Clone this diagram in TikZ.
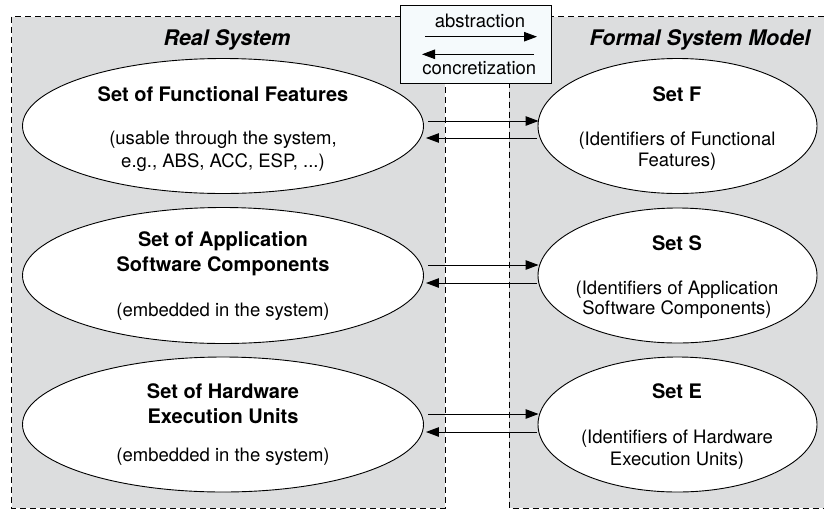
\documentclass[tikz,border=0pt]{standalone}
\usepackage{fontspec}
\setmainfont{TeX Gyre Heros}
\usetikzlibrary{shapes.geometric,arrows.meta,calc}
\definecolor{panelgray}{RGB}{220,221,222}
\definecolor{boxfill}{RGB}{245,250,252}
\begin{document}
\begin{tikzpicture}[x=1pt,y=-1pt,
  dline/.style={line width=0.9pt, dash pattern=on 6pt off 4pt},
  ellbox/.style={ellipse, draw, fill=white, line width=0.9pt, inner sep=0pt},
  boldtxt/.style={font=\fontsize{20}{24}\selectfont\bfseries, anchor=base, inner sep=0pt},
  regtxt/.style={font=\fontsize{18.5}{22}\selectfont, anchor=base, inner sep=0pt},
  headtxt/.style={font=\fontsize{21.5}{26}\selectfont\bfseries\itshape, anchor=base, inner sep=0pt},
  arr/.style={-{Triangle[length=13pt,width=9.5pt]}, line width=1pt}]
\useasboundingbox (0,0) rectangle (824,512);
% panels
\fill[panelgray] (11.7,16.7) rectangle (445,508);
\draw[dline] (11.7,16.7) rectangle (445,508);
\fill[panelgray] (509,16.7) rectangle (824,508);
\draw[dline] (824,16.7) -- (509,16.7) -- (509,508) -- (824,508);
% headings
\node[headtxt] (hreal) at (227,45) {Real System};
\node[headtxt] (hformal) at (700,45) {Formal System Model};
% left ellipses
\node[ellbox, minimum width=401pt, minimum height=135pt] (L1) at (223,126) {};
\node[ellbox, minimum width=401pt, minimum height=136pt] (L2) at (223,275.5) {};
\node[ellbox, minimum width=401pt, minimum height=135pt] (L3) at (223,424.5) {};
% right ellipses
\node[ellbox, minimum width=279pt, minimum height=135pt] (R1) at (677.5,126) {};
\node[ellbox, minimum width=279pt, minimum height=135pt] (R2) at (677.5,275.5) {};
\node[ellbox, minimum width=279pt, minimum height=135pt] (R3) at (677.5,424.5) {};
% left texts
\node[boldtxt] (l1a) at (223,101) {Set of Functional Features};
\node[regtxt] (l1b) at (223,144) {(usable through the system,};
\node[regtxt] (l1c) at (223,167) {e.g., ABS, ACC, ESP, ...)};
\node[boldtxt] (l2a) at (223,246.7) {Set of Application};
\node[boldtxt] (l2b) at (223,271.7) {Software Components};
\node[regtxt] (l2c) at (223,316.7) {(embedded in the system)};
\node[boldtxt] (l3a) at (223,398) {Set of Hardware};
\node[boldtxt] (l3b) at (223,423) {Execution Units};
\node[regtxt] (l3c) at (223,461.7) {(embedded in the system)};
% right texts
\node[boldtxt] (r1a) at (677,101) {Set F};
\node[regtxt] (r1b) at (677,145.7) {(Identifiers of Functional};
\node[regtxt] (r1c) at (677,166.7) {Features)};
\node[boldtxt] (r2a) at (677,250) {Set S};
\node[regtxt] (r2b) at (677,294) {(Identifiers of Application};
\node[regtxt] (r2c) at (677,314) {Software Components)};
\node[boldtxt] (r3a) at (677,398.3) {Set E};
\node[regtxt] (r3b) at (677,443.3) {(Identifiers of Hardware};
\node[regtxt] (r3c) at (677,465) {Execution Units)};
% arrows between ellipses
\draw[arr] ($(L1.east)+(4.5,-5)$) -- ($(R1.west)+(1,-5)$);
\draw[arr] ($(R1.west)+(-0.5,12)$) -- ($(L1.east)+(2,12)$);
\draw[arr] ($(L2.east)+(4.5,-10.5)$) -- ($(R2.west)+(1,-10.5)$);
\draw[arr] ($(R2.west)+(-0.5,7.5)$) -- ($(L2.east)+(2,7.5)$);
\draw[arr] ($(L3.east)+(4.5,-10.5)$) -- ($(R3.west)+(1,-10.5)$);
\draw[arr] ($(R3.west)+(-0.5,7.5)$) -- ($(L3.east)+(2,7.5)$);
% legend box
\node[draw, fill=boxfill, line width=1pt, minimum width=151pt, minimum height=77.3pt, inner sep=0pt] (box) at (476.2,44.35) {};
\node[regtxt] (tabs) at (480,27.7) {abstraction};
\node[regtxt] (tcon) at (479.3,74) {concretization};
\coordinate (a1s) at (425,36.7);
\coordinate (a1e) at (537,36.7);
\coordinate (a2s) at (534,54.3);
\coordinate (a2e) at (422,54.3);
\draw[arr] (a1s) -- (a1e);
\draw[arr] (a2s) -- (a2e);
\end{tikzpicture}
\end{document}
